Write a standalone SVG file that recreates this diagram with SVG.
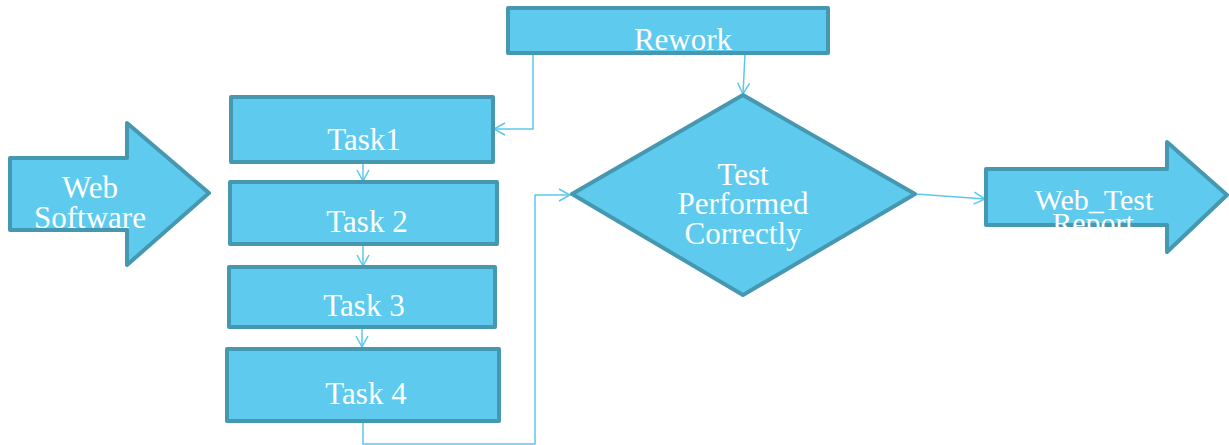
<svg xmlns="http://www.w3.org/2000/svg" width="1229" height="445" viewBox="0 0 1229 445">
<style>
.shape{fill:#5ecbee;stroke:#4698b0;stroke-width:4;stroke-linejoin:round}
.lbl{fill:#ffffff;font-family:"Liberation Serif","Times New Roman",serif;font-size:31px;text-anchor:middle}
.conn{fill:none;stroke:#5bc8ee;stroke-width:1.5}
</style>
<defs>
<marker id="arr" markerWidth="14" markerHeight="14" refX="12" refY="7" orient="auto" markerUnits="userSpaceOnUse">
<path d="M1,1 L12,7 L1,13" fill="none" stroke="#5bc8ee" stroke-width="1.5"/>
</marker>
<clipPath id="rclip"><rect x="980" y="140" width="250" height="88"/></clipPath>
</defs>
<rect width="1229" height="445" fill="#ffffff"/>
<g id="connectors">
<path class="conn" d="M745,54 L743,94" marker-end="url(#arr)"/>
<path class="conn" d="M533,54 L533,129 L494,129" marker-end="url(#arr)"/>
<path class="conn" d="M363,163 L363,181" marker-end="url(#arr)"/>
<path class="conn" d="M363,245 L363,266" marker-end="url(#arr)"/>
<path class="conn" d="M362,328 L362,347" marker-end="url(#arr)"/>
<path class="conn" d="M363,422 L363,444 L535,444 L535,195 L570,195" marker-end="url(#arr)"/>
<path class="conn" d="M916,194 L985,199" marker-end="url(#arr)"/>
</g>
<g id="rework">
<rect class="shape" x="508" y="8" width="320" height="45"/>
<text class="lbl" x="683" y="50">Rework</text>
</g>
<g id="web-software">
<path class="shape" d="M10,158 L127,158 L127,123 L209,193 L127,265 L127,230 L10,230 Z"/>
<text class="lbl" x="90" y="198">Web</text>
<text class="lbl" x="90" y="228">Software</text>
</g>
<g id="task1">
<rect class="shape" x="231" y="97" width="262" height="65"/>
<text class="lbl" x="364" y="150">Task1</text>
</g>
<g id="task2">
<rect class="shape" x="230" y="182" width="267" height="62"/>
<text class="lbl" x="367" y="232">Task 2</text>
</g>
<g id="task3">
<rect class="shape" x="229" y="267" width="266" height="60"/>
<text class="lbl" x="364" y="316">Task 3</text>
</g>
<g id="task4">
<rect class="shape" x="227" y="349" width="272" height="72"/>
<text class="lbl" x="366" y="404">Task 4</text>
</g>
<g id="decision">
<path class="shape" d="M743,95 L915,194 L743,295 L572,194 Z"/>
<text class="lbl" x="743" y="185">Test</text>
<text class="lbl" x="743" y="214">Performed</text>
<text class="lbl" x="743" y="244">Correctly</text>
</g>
<g id="web-test-report">
<path class="shape" d="M986,169 L1167,169 L1167,142 L1227,195 L1167,252 L1167,225 L986,225 Z"/>
<text class="lbl" x="1094" y="210" style="font-size:30px">Web_Test</text>
<text class="lbl" x="1093" y="233" style="font-size:30px" clip-path="url(#rclip)">Report</text>
</g>
</svg>
